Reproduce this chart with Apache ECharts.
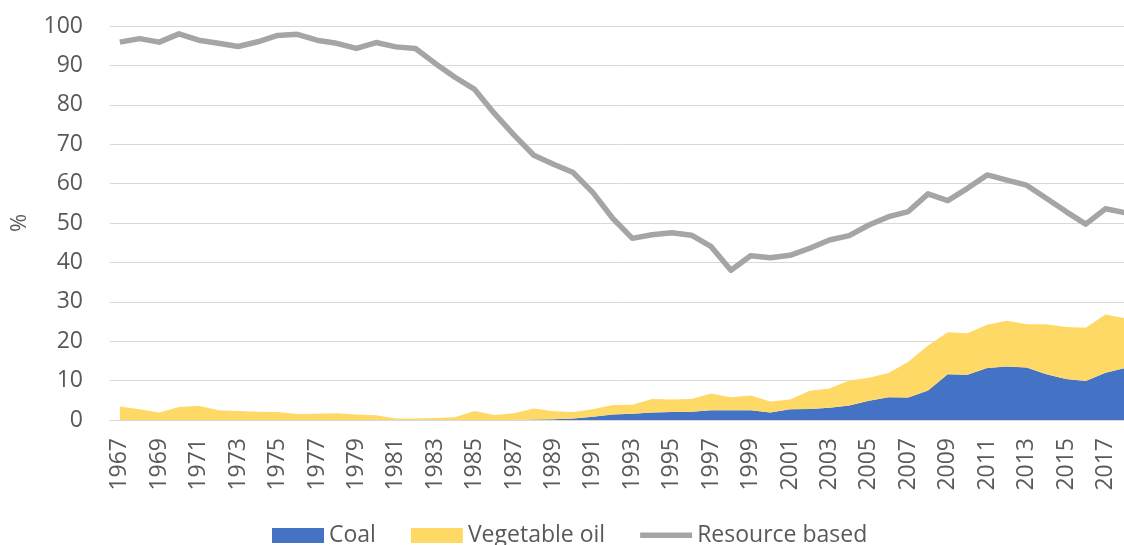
<!DOCTYPE html>
<html>
<head>
<meta charset="utf-8">
<script src="https://cdn.jsdelivr.net/npm/echarts@6/dist/echarts.min.js"></script>
<style>
html,body{margin:0;padding:0;background:#fff;}
#chart{width:1124px;height:545px;}
</style>
</head>
<body>
<div id="chart"></div>
<script>
var years = ['1967','1968','1969','1970','1971','1972','1973','1974','1975','1976','1977','1978','1979','1980','1981','1982','1983','1984','1985','1986','1987','1988','1989','1990','1991','1992','1993','1994','1995','1996','1997','1998','1999','2000','2001','2002','2003','2004','2005','2006','2007','2008','2009','2010','2011','2012','2013','2014','2015','2016','2017','2018'];

var coal = [0,0,0,0,0,0,0,0,0,0,0,0,0,0,0,0,0,0,0,0,0,0.1,0.2,0.4,0.8,1.4,1.6,1.9,2.0,2.1,2.5,2.5,2.5,1.9,2.7,2.8,3.1,3.7,4.9,5.8,5.7,7.5,11.6,11.5,13.2,13.6,13.3,11.6,10.4,9.9,12.0,13.2];

var vegetableOil = [3.4,2.7,1.9,3.3,3.6,2.5,2.3,2.1,2.0,1.5,1.6,1.7,1.4,1.2,0.4,0.4,0.5,0.7,2.3,1.3,1.7,2.8,2.0,1.6,1.9,2.4,2.3,3.4,3.2,3.2,4.2,3.3,3.7,2.8,2.5,4.6,4.9,6.3,5.8,6.1,9.1,11.4,10.7,10.5,11.0,11.6,11.0,12.7,13.2,13.5,14.8,12.6];

var resourceBased = [95.9,96.8,95.9,98.0,96.4,95.6,94.8,96.0,97.6,97.9,96.4,95.6,94.3,95.8,94.7,94.3,90.5,87.0,83.9,77.8,72.3,67.2,64.9,62.8,57.7,51.2,46.1,47.0,47.5,46.9,44.0,38.0,41.7,41.2,41.8,43.6,45.7,46.8,49.5,51.6,52.9,57.4,55.7,58.8,62.2,60.9,59.6,56.3,52.9,49.7,53.6,52.6];

var yTicks = [0,10,20,30,40,50,60,70,80,90,100];

var chart = echarts.init(document.getElementById('chart'), null, {renderer:'canvas'});
var txt = '#595959';
var fontFam = '"Open Sans", "Liberation Sans", sans-serif';
var lineIcon = 'path://M0,0 L0.05,0 L0,0.05 Z M0,4.5 L52,4.5 L52,10 L0,10 Z M52,15 L51.95,15 L52,14.95 Z';
chart.setOption({
  animation: false,
  backgroundColor: '#ffffff',
  grid: {left: 110, right: -11, top: 26, bottom: 125, containLabel: false, outerBoundsMode: 'none'},
  legend: {
    left: 267, top: 519,
    itemWidth: 52, itemHeight: 15, itemGap: 35,
    textStyle: {color: txt, fontSize: 23, fontFamily: fontFam},
    data: [
      {name: 'Coal', icon: 'rect'},
      {name: 'Vegetable oil', icon: 'rect'},
      {name: 'Resource based', icon: lineIcon, itemStyle: {color: '#A5A5A5'}}
    ]
  },
  xAxis: {
    type: 'category',
    data: years,
    boundaryGap: true,
    axisLine: {show: true, lineStyle: {color: '#D9D9D9', width: 1}},
    axisTick: {show: false},
    axisLabel: {interval: 1, rotate: 90, margin: 18, color: txt, fontSize: 23, fontFamily: fontFam},
    splitLine: {show: false}
  },
  yAxis: {
    type: 'value',
    min: yTicks[0], max: yTicks[yTicks.length-1], interval: 10,
    name: '%', nameLocation: 'middle', nameGap: 79, nameRotate: 90,
    nameTextStyle: {color: txt, fontSize: 22, fontFamily: fontFam},
    axisLine: {show: false},
    axisTick: {show: false},
    axisLabel: {margin: 27, color: txt, fontSize: 23, fontFamily: fontFam},
    splitLine: {show: true, lineStyle: {color: '#D9D9D9', width: 1}}
  },
  series: [
    {
      name: 'Coal', type: 'line', stack: 'total', data: coal,
      symbol: 'none', showSymbol: false,
      lineStyle: {width: 0},
      itemStyle: {color: '#4472C4'},
      areaStyle: {color: '#4472C4', opacity: 1}
    },
    {
      name: 'Vegetable oil', type: 'line', stack: 'total', data: vegetableOil,
      symbol: 'none', showSymbol: false,
      lineStyle: {width: 0},
      itemStyle: {color: '#FFD966'},
      areaStyle: {color: '#FFD966', opacity: 1}
    },
    {
      name: 'Resource based', type: 'line', data: resourceBased,
      symbol: 'none', showSymbol: false,
      lineStyle: {width: 5.5, color: '#A5A5A5', join: 'round'},
      itemStyle: {color: '#A5A5A5'},
      z: 5
    }
  ]
});
</script>
</body>
</html>
